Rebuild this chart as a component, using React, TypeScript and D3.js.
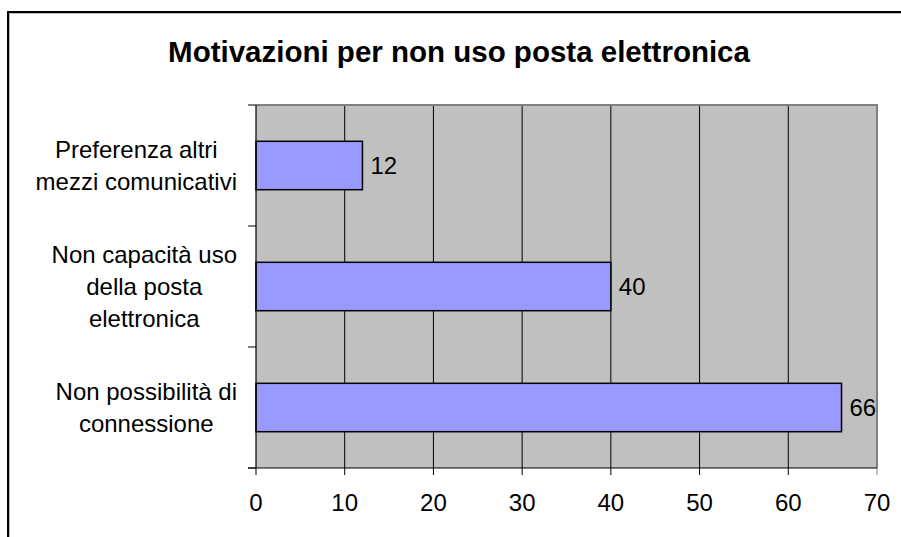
import React from "react";
import * as d3 from "d3";

const title = "Motivazioni per non uso posta elettronica";
const categories = [
  ["Preferenza altri", "mezzi comunicativi"],
  ["Non capacità uso", "della posta", "elettronica"],
  ["Non possibilità di", "connessione"],
];
const values = [12, 40, 66];
const xTicks = [0, 10, 20, 30, 40, 50, 60, 70];

const W = 901;
const H = 537;
const FONT = "'Liberation Sans', Arial, Helvetica, sans-serif";
const margin = { left: 256, right: W - 877, top: 105, bottom: H - 468 };

function measure(text: string, font: string): number {
  const c = document.createElement("canvas").getContext("2d");
  if (!c) return text.length * 12;
  c.font = font;
  return c.measureText(text).width;
}

export default function App() {
  const x = d3
    .scaleLinear()
    .domain([0, 70])
    .range([margin.left, W - margin.right]);
  const y = d3
    .scaleBand<number>()
    .domain(d3.range(categories.length))
    .range([margin.top, H - margin.bottom])
    .paddingInner(0.6)
    .paddingOuter(0.3);
  const step = y.step();
  const x0 = x(0);
  const x1 = x(70);
  const yTop = margin.top;
  const yBot = H - margin.bottom;
  const labelRight = 237;
  const lineH = 32;

  return (
    <svg
      width={W}
      height={H}
      style={{ position: "absolute", left: 0, top: 0, background: "#fff" }}
      fontFamily={FONT}
    >
      {/* outer chart border */}
      <rect x={8} y={12} width={W + 20} height={H + 20} fill="#fff" stroke="#000" strokeWidth={2} />
      <line x1={9.5} y1={13.5} x2={W} y2={13.5} stroke="#bbb" strokeWidth={1} />
      <line x1={9.5} y1={13.5} x2={9.5} y2={H} stroke="#bbb" strokeWidth={1} />

      <text x={459} y={62} textAnchor="middle" fontWeight="bold" fontSize={29.5} fill="#000">
        {title}
      </text>

      {/* plot area */}
      <rect x={x0} y={yTop} width={x1 - x0} height={yBot - yTop} fill="#c0c0c0" />
      {xTicks.slice(1, -1).map((t) => (
        <line key={t} x1={x(t)} x2={x(t)} y1={yTop} y2={yBot} stroke="#000" strokeWidth={1} />
      ))}
      <line x1={x0} x2={x1 + 1} y1={yTop} y2={yTop} stroke="#808080" strokeWidth={2} />
      <line x1={x1} x2={x1} y1={yTop} y2={yBot} stroke="#808080" strokeWidth={2} />

      {/* bars */}
      {values.map((v, i) => (
        <rect
          key={i}
          x={x0}
          y={y(i)!}
          width={x(v) - x0}
          height={y.bandwidth()}
          fill="#9999ff"
          stroke="#000"
          strokeWidth={1.5}
        />
      ))}
      {values.map((v, i) => (
        <text key={i} x={x(v) + 8} y={y(i)! + y.bandwidth() / 2} dy="0.35em" fontSize={24} fill="#000">
          {v}
        </text>
      ))}

      {/* axes */}
      <line x1={x0} x2={x0} y1={yTop} y2={yBot} stroke="#000" strokeWidth={1.2} />
      <line x1={x0 - 8} x2={x1} y1={yBot} y2={yBot} stroke="#000" strokeWidth={1.2} />
      {d3.range(categories.length + 1).map((i) => (
        <line
          key={i}
          x1={x0 - 8}
          x2={x0}
          y1={yTop + i * step}
          y2={yTop + i * step}
          stroke="#000"
          strokeWidth={1}
        />
      ))}
      {xTicks.map((t) => (
        <g key={t}>
          <line x1={x(t)} x2={x(t)} y1={yBot} y2={yBot + 7} stroke={t === 70 ? "#808080" : "#000"} strokeWidth={1} />
          <text x={x(t)} y={511} textAnchor="middle" fontSize={24} fill="#000">
            {t}
          </text>
        </g>
      ))}

      {/* category labels */}
      {categories.map((lines, i) => {
        const maxW = d3.max(lines, (l) => measure(l, `24px ${FONT}`)) || 0;
        const cx = labelRight - maxW / 2;
        const cy = y(i)! + y.bandwidth() / 2;
        const startY = cy - ((lines.length - 1) * lineH) / 2;
        return (
          <text key={i} textAnchor="middle" fontSize={24} fill="#000">
            {lines.map((l, j) => (
              <tspan key={j} x={cx} y={startY + j * lineH} dy="0.35em">
                {l}
              </tspan>
            ))}
          </text>
        );
      })}
    </svg>
  );
}
